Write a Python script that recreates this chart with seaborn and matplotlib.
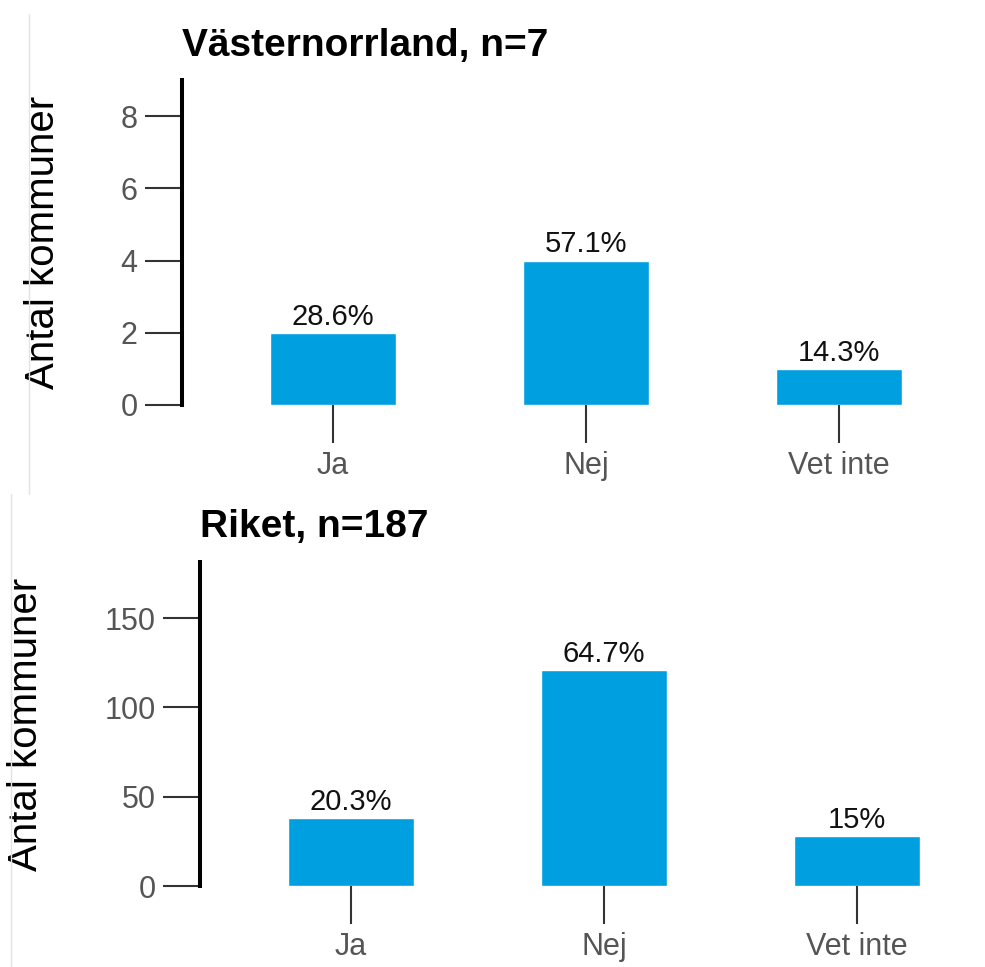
import numpy as np
import pandas as pd
import matplotlib
matplotlib.use("Agg")
import matplotlib.pyplot as plt
from matplotlib.lines import Line2D
import seaborn as sns

# data
categories = ["Ja", "Nej", "Vet inte"]
vn_counts = [2, 4, 1]
riket_counts = [38, 121, 28]
vn_title = "Västernorrland, n=7"
riket_title = "Riket, n=187"
vn_yticks = [0, 2, 4, 6, 8]
riket_yticks = [0, 50, 100, 150]

BAR_COLOR = "#009fe0"
W, H = 985, 967

sns.set_theme(style="white")
plt.rcParams["font.family"] = ["Liberation Sans", "DejaVu Sans"]


def pct_labels(counts):
  n = sum(counts)
  out = []
  for c in counts:
    p = round(100 * c / n, 1)
    out.append(f"{p:g}%")
  return out


def draw_panel(fig, rect, counts, yticks, ylim, title, title_xy, ylabel_x):
  ax = fig.add_axes(rect)
  df = pd.DataFrame({"svar": categories, "antal": counts})
  sns.barplot(data=df, x="svar", y="antal", color=BAR_COLOR, width=0.5,
              saturation=1, ax=ax)
  ax.bar_label(ax.containers[0], labels=pct_labels(counts), padding=1.5,
               fontsize=21, color="#111111")
  left_px = rect[0] * W
  right_px = (rect[0] + rect[2]) * W
  xmin = -0.597
  ax.set_xlim(xmin, xmin + (right_px - left_px) / 253.0)
  ax.set_ylim(*ylim)
  ax.set_yticks(yticks)
  for s in ["top", "right", "bottom"]:
    ax.spines[s].set_visible(False)
  ax.spines["left"].set_color("black")
  ax.spines["left"].set_linewidth(2.9)
  ax.tick_params(axis="both", direction="out", length=27, width=1.5,
                 color="#333333", labelsize=22, labelcolor="#555555")
  ax.tick_params(axis="x", bottom=True, pad=6)
  ax.tick_params(axis="y", left=True, pad=5)
  ax.set_xlabel("")
  ax.set_ylabel("Antal kommuner", fontsize=29, color="black")
  ax.yaxis.set_label_coords(ylabel_x, 0.5)
  ax.set_facecolor("white")
  fig.text(title_xy[0], title_xy[1], title, fontsize=28, fontweight="bold",
           color="black", va="baseline", ha="left")
  return ax


fig = plt.figure(figsize=(W / 100, H / 100), dpi=100)
fig.patch.set_facecolor("white")

# top panel: axis x 182..985, y 80..405 (px from top)
draw_panel(fig, [182 / W, 1 - 405 / H, (985 - 182) / W, (405 - 80) / H],
           vn_counts, vn_yticks, (0, 9.0), vn_title,
           (182 / W, 1 - 56 / H), -0.150)

# bottom panel: axis x 200..985, y 562..886
draw_panel(fig, [200 / W, 1 - 886 / H, (985 - 200) / W, (886 - 562) / H],
           riket_counts, riket_yticks, (0, 181.5), riket_title,
           (200 / W, 1 - 537 / H), -0.198)

# faint edges of the two stacked images
fig.add_artist(Line2D([29 / W, 29 / W], [1 - 14 / H, 1 - 494 / H],
                      color="#e3e3e3", lw=1))
fig.add_artist(Line2D([11 / W, 11 / W], [1 - 494 / H, 0],
                      color="#e3e3e3", lw=1))

fig.savefig("out.png", dpi=100, facecolor="white")
